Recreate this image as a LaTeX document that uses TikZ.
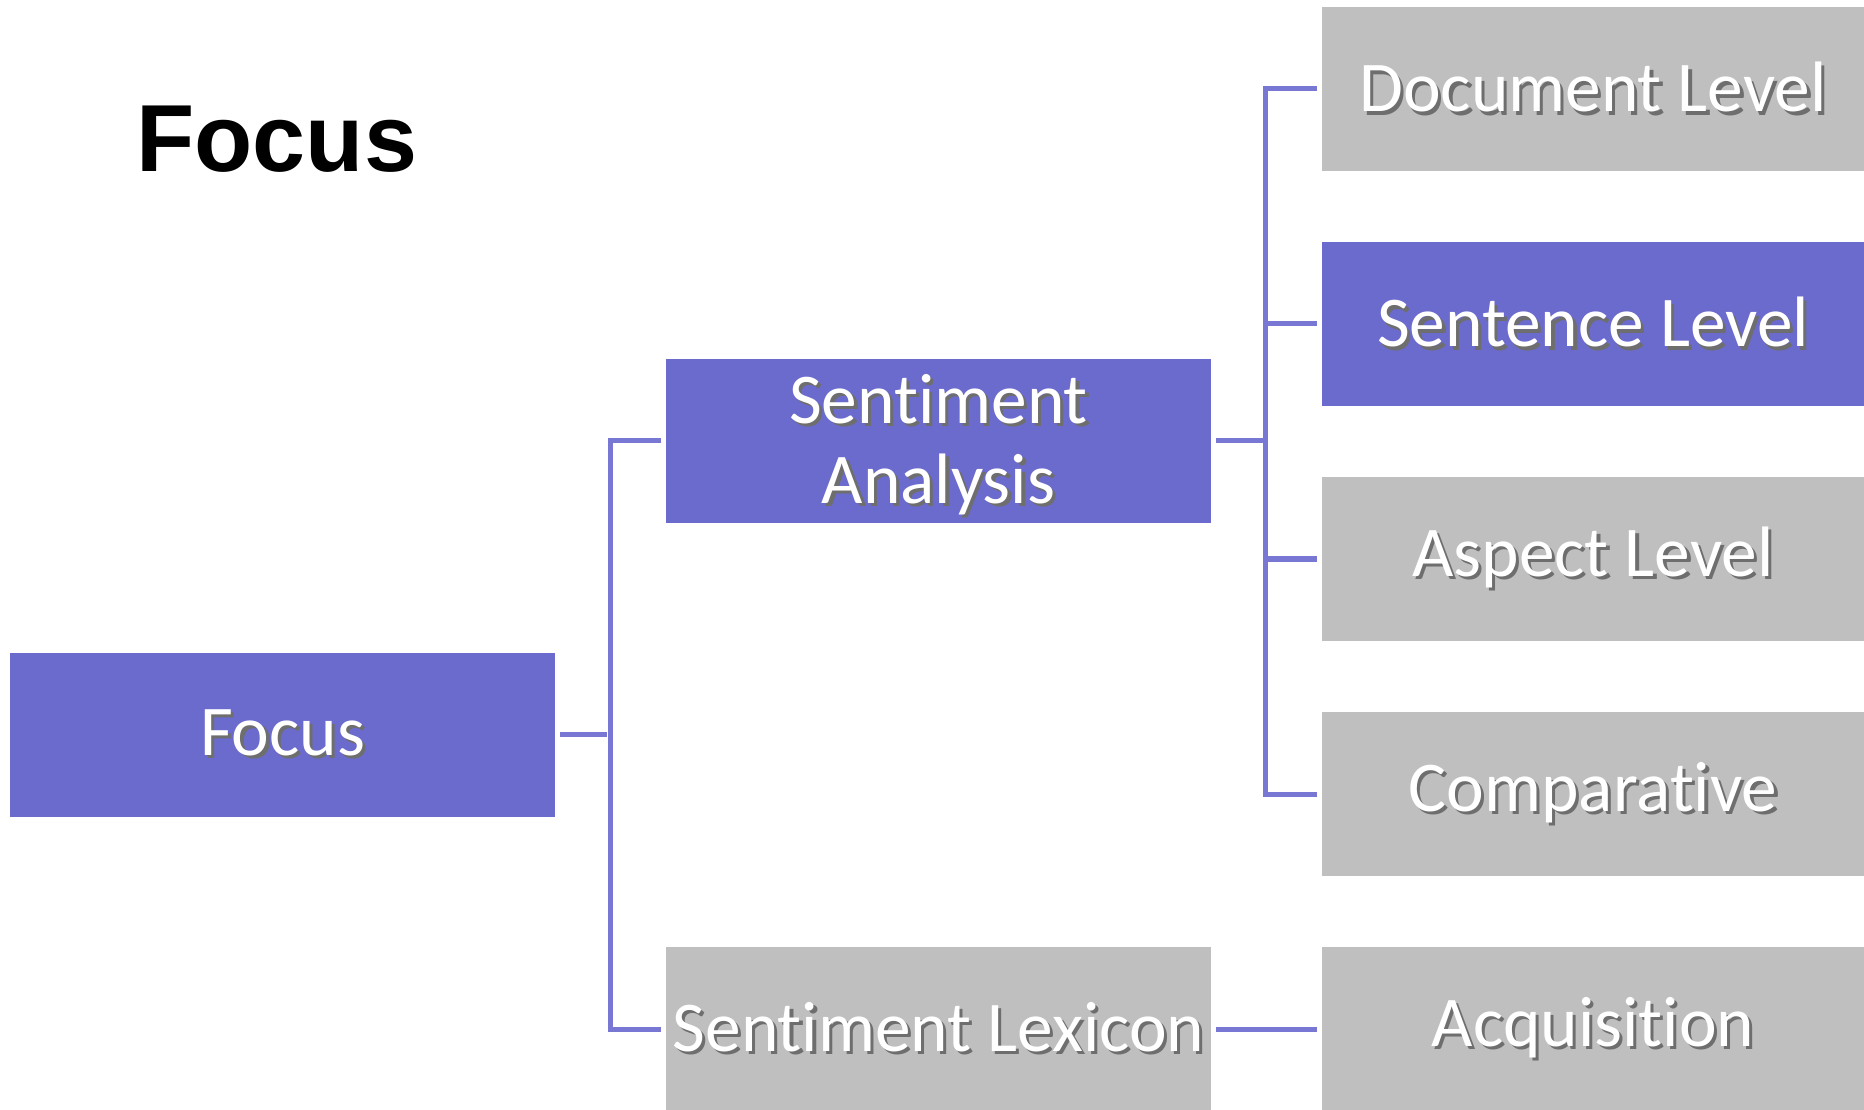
\documentclass[tikz,border=0pt]{standalone}
\usepackage{fontspec}
\setmainfont{Carlito}[Ligatures=NoCommon]
\newfontfamily\titlefont{Liberation Sans}
\definecolor{focusblue}{RGB}{107,107,205}
\definecolor{linkblue}{RGB}{120,120,212}
\definecolor{boxgray}{RGB}{191,191,191}
\definecolor{shadowgray}{RGB}{110,110,110}
\newcommand{\shadtext}[1]{\leavevmode\rlap{\kern0.9pt\raisebox{-0.9pt}{\textcolor{shadowgray}{#1}}}#1}
\begin{document}
\begin{tikzpicture}[x=0.01cm, y=-0.01cm, line width=0.05cm,
  main node/.style={rectangle,minimum width=5.44cm,minimum height=1.64cm,inner sep=0pt,text=white,align=center,font=\fontsize{20.3}{22.8}\selectfont},
  level node/.style={main node,minimum width=5.42cm},
  blue node/.style={fill=focusblue},
  gray node/.style={fill=boxgray}]%draw=white!80!gray,
\useasboundingbox (0,0) rectangle (1864,1110);
\node[anchor=base west,inner sep=0pt,font=\titlefont\bfseries\fontsize{27.1}{30}\selectfont] (title) at (134,172) {Focus};
\begin{scope}
\node[main node,blue node] (focus) at (282.6,734.7) {\shadtext{Focus}};
\node[main node,blue node,text depth=0.04cm] (senti) at (938.5,441) {\shadtext{Sentiment}\\\shadtext{Analysis}};
\node[main node,gray node] (lexicon) at (938.5,1029) {\shadtext{Sentiment Lexicon}};
\node[level node,blue node] (sent) at (1593,324) {\shadtext{Sentence Level}};
\node[level node,gray node] (doc) at (1593,89) {\shadtext{Document Level}};
\node[level node,gray node] (aspect) at (1593,559) {\shadtext{Aspect Level}};
\node[level node,gray node] (comp) at (1593,794) {\shadtext{Comparative}};
\node[level node,gray node] (acq) at (1593,1029) {\shadtext{Acquisition}};
\coordinate (j1) at (610,734.7);
\coordinate (j2) at (1265.6,441);
\end{scope}
\begin{scope}[draw=linkblue,shorten >=0.8pt,shorten <=0.8pt]
\draw (focus) -- (j1);
\draw[shorten <=0pt] (j1) |- (senti);
\draw[shorten <=0pt] (j1) |- (lexicon);
\draw (senti) -- (j2);
\foreach \n in {doc,sent,aspect,comp}
  \draw[shorten <=0pt] (j2) |- (\n);
\draw (lexicon) -- (acq);
\end{scope}
\end{tikzpicture}
\end{document}
